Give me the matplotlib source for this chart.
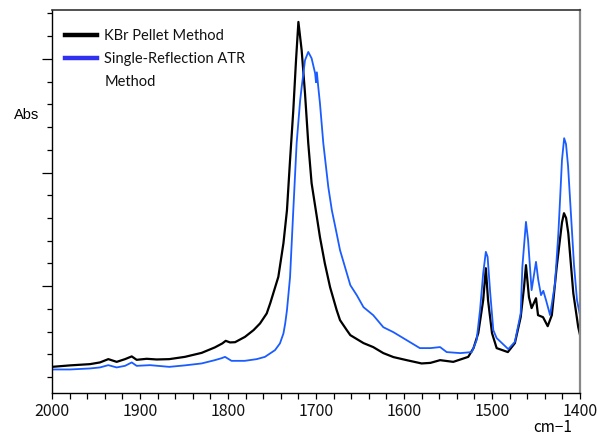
"""KBr pellet vs single-reflection ATR spectra, 2000-1400 cm-1."""
import matplotlib
matplotlib.use("Agg")
import matplotlib.pyplot as plt
from matplotlib.ticker import MultipleLocator, NullFormatter
from matplotlib.lines import Line2D

# Values (arbitrary absorbance units).
kbr_wn = [2000, 1979.5, 1956.8, 1945.5, 1936, 1926.5, 1917, 1909.4, 1903.8, 1892.4,
          1881, 1866.7, 1849, 1830, 1815, 1806.5, 1802.6, 1797.7, 1792, 1780.7,
          1771, 1763.6, 1756, 1752, 1742.8, 1737, 1733, 1729.5, 1725.8, 1722.7,
          1720, 1716.3, 1712.5, 1708.8, 1705, 1699, 1695.5, 1690, 1684, 1676.5,
          1672.7, 1665, 1661, 1646, 1635, 1623.5, 1612, 1597, 1580, 1570,
          1559, 1544, 1527, 1521, 1515.6, 1510, 1507, 1504.5, 1500, 1494.7,
          1482, 1474, 1467.4, 1463.6, 1461.4, 1458, 1455, 1450, 1447.7, 1442,
          1436.7, 1432, 1426.5, 1420.5, 1418.2, 1415.8, 1413.3, 1407.6, 1402, 1399.4]
kbr_abs = [-0.710, -0.697, -0.686, -0.671, -0.642, -0.666, -0.642, -0.618, -0.648, -0.639,
           -0.645, -0.642, -0.622, -0.587, -0.539, -0.504, -0.481, -0.495, -0.493, -0.446,
           -0.387, -0.328, -0.240, -0.150, 0.082, 0.378, 0.668, 1.108, 1.548, 1.988,
           2.325, 2.076, 1.697, 1.258, 0.906, 0.607, 0.431, 0.202, -0.009, -0.211,
           -0.299, -0.387, -0.431, -0.501, -0.536, -0.589, -0.624, -0.651, -0.680, -0.675,
           -0.651, -0.666, -0.622, -0.545, -0.413, -0.123, 0.158, -0.123, -0.413, -0.545,
           -0.580, -0.501, -0.273, -0.009, 0.185, -0.097, -0.193, -0.106, -0.255, -0.273,
           -0.352, -0.255, 0.167, 0.560, 0.642, 0.600, 0.466, -0.062, -0.361, -0.449]

atr_wn = [2000, 1979.5, 1956.8, 1945.5, 1936, 1926.5, 1917, 1909.4, 1903.8, 1888.6,
          1866.7, 1849, 1830, 1815, 1807, 1803.4, 1796, 1781, 1767.4, 1758,
          1746.6, 1741, 1737, 1735, 1733, 1729.5, 1725.8, 1722, 1718, 1716.3,
          1712.5, 1708.8, 1705, 1701, 1700, 1699, 1697.4, 1695.5, 1691.7, 1686,
          1682, 1678, 1672.7, 1667, 1661, 1653.7, 1646, 1635, 1623.5, 1612,
          1597, 1582, 1570, 1559, 1551.5, 1536, 1523, 1517.5, 1513.6, 1510,
          1507, 1505, 1502, 1498.5, 1494.7, 1481.5, 1474, 1467.4, 1465.5, 1461.4,
          1459, 1455, 1450, 1447.4, 1444.3, 1441.7, 1438.6, 1434, 1428.4, 1424.6,
          1422.7, 1420.5, 1418, 1415.9, 1413.6, 1410.8, 1406.8, 1403.4, 1399.4]
atr_abs = [-0.733, -0.733, -0.724, -0.715, -0.695, -0.715, -0.701, -0.671, -0.701, -0.695,
           -0.710, -0.697, -0.680, -0.651, -0.633, -0.622, -0.657, -0.657, -0.642, -0.622,
           -0.563, -0.504, -0.416, -0.328, -0.211, 0.079, 0.668, 1.258, 1.636, 1.750,
           1.988, 2.061, 2.005, 1.873, 1.794, 1.882, 1.750, 1.609, 1.258, 0.871,
           0.668, 0.519, 0.317, 0.167, 0.009, -0.079, -0.185, -0.255, -0.361, -0.405,
           -0.475, -0.545, -0.545, -0.536, -0.580, -0.589, -0.580, -0.475, -0.211, 0.114,
           0.302, 0.258, -0.062, -0.387, -0.457, -0.554, -0.490, -0.240, 0.170, 0.566,
           0.405, -0.035, 0.214, 0.053, -0.079, -0.041, -0.123, -0.255, 0.024, 0.464,
           0.756, 1.108, 1.302, 1.250, 1.060, 0.700, 0.185, -0.123, -0.281]

# second label wraps onto a row of its own, as in the reference
labels = ["KBr Pellet Method", "Single-Reflection ATR", "Method"]
jp = ["Noto Sans CJK JP", "DejaVu Sans"]

fig = plt.figure(figsize=(5.97, 4.36), dpi=100)
ax = fig.add_axes([52/597, 43/436, 528/597, 383/436])

ax.plot(kbr_wn, kbr_abs, color="black", lw=1.6)
ax.plot(atr_wn, atr_abs, color="#1a5cff", lw=1.3)

ax.set_xlim(2000, 1400)
ax.set_ylim(-0.94, 2.43)
ax.xaxis.set_major_locator(MultipleLocator(100))
ax.xaxis.set_minor_locator(MultipleLocator(20))
ax.yaxis.set_major_locator(MultipleLocator(1))
ax.yaxis.set_minor_locator(MultipleLocator(0.2))
ax.yaxis.set_major_formatter(NullFormatter())
ax.tick_params(axis="x", which="both", direction="out", length=4, width=0.9, pad=3)
ax.tick_params(axis="y", which="major", direction="out", length=7.5, width=0.9)
ax.tick_params(axis="y", which="minor", direction="out", length=3.5, width=0.9)
for t in ax.get_xticklabels():
    t.set_family(jp); t.set_fontsize(11.5); t.set_color("#111111")

for s in ("left", "bottom"):
    ax.spines[s].set_color("black"); ax.spines[s].set_linewidth(1.0)
ax.spines["top"].set_color("#333333"); ax.spines["top"].set_linewidth(1.2)
ax.spines["right"].set_color("#888888"); ax.spines["right"].set_linewidth(1.6)

handles = [Line2D([], [], color="black", lw=3.2),
           Line2D([], [], color="#3030f0", lw=3.2),
           Line2D([], [], color="none", lw=3.2)]
leg = ax.legend(handles, labels, loc="upper left", frameon=False,
                prop={"family": "Lato", "size": 10.5}, handlelength=2.2,
                handletextpad=0.5, labelspacing=0.62, borderaxespad=0.3,
                bbox_to_anchor=(0.005, 0.977))
for t in leg.get_texts():
    t.set_color("#111111")

fig.text(39/597, 1 - 115/436, "Abs", ha="right", va="center",
         family="Liberation Sans", fontsize=10.5)
fig.text(553/597, 1 - 427/436, "cm−1", ha="center", va="center",
         family=jp, fontsize=11)

fig.savefig("out.png", dpi=100)
